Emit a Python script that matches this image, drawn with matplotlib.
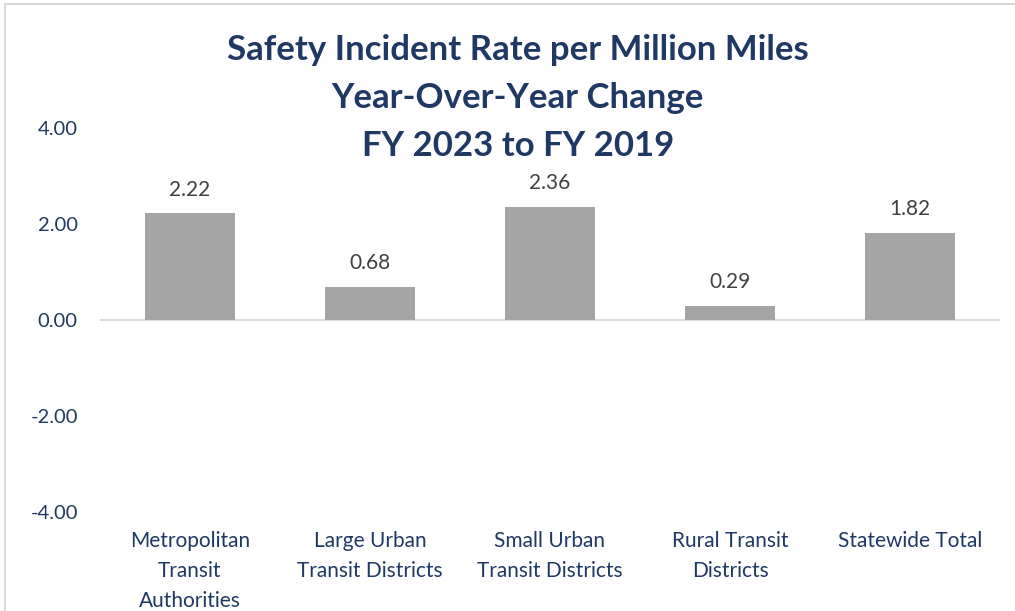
import matplotlib.pyplot as plt
from matplotlib.patches import Rectangle

categories = ["Metropolitan\nTransit\nAuthorities", "Large Urban\nTransit Districts",
              "Small Urban\nTransit Districts", "Rural Transit\nDistricts", "Statewide Total"]
values = [2.22, 0.68, 2.36, 0.29, 1.82]
yticks = [-4, -2, 0, 2, 4]

navy = "#1F3864"
bar_gray = "#A5A5A5"
plt.rcParams['font.family'] = ['Lato', 'DejaVu Sans']

fig = plt.figure(figsize=(10.15, 6.11), dpi=100)
ax = fig.add_axes([100 / 1015, 1 - 512 / 611, 900 / 1015, 384 / 611])

x = list(range(len(categories)))
ax.bar(x, values, width=0.5, color=bar_gray, zorder=2)
for xi, v in zip(x, values):
    ax.annotate(f"{v:.2f}", (xi, v), xytext=(0, 10), textcoords="offset points",
                ha="center", va="bottom", fontsize=15, color="#404040")

ax.axhline(0, color="#D9D9D9", lw=1.5, zorder=1)
ax.set_xlim(-0.5, len(categories) - 0.5)
ax.set_ylim(-4, 4)
ax.set_yticks(yticks)
ax.set_yticklabels([f"{t:.2f}" for t in yticks], fontsize=14.5, color=navy)
ax.set_xticks(x)
ax.set_xticklabels(categories, fontsize=15, color=navy, linespacing=1.6)
ax.tick_params(axis="y", length=0, pad=16)
ax.tick_params(axis="x", length=0, pad=14)
for s in ax.spines.values():
    s.set_visible(False)

fig.text(0.51, 1 - 98 / 611, "Safety Incident Rate per Million Miles\nYear-Over-Year Change\nFY 2023 to FY 2019",
         ha="center", va="center", fontsize=25, fontweight="bold", color=navy,
         linespacing=1.6, transform=fig.transFigure)

# light chart border (left and top edges visible)
fig.patches.append(Rectangle((5 / 1015, -0.1), 1.2, 1 - 4 / 611 + 0.1, transform=fig.transFigure,
                             fill=False, edgecolor="#D9D9D9", lw=1.5))

fig.savefig("out.png", dpi=100)
